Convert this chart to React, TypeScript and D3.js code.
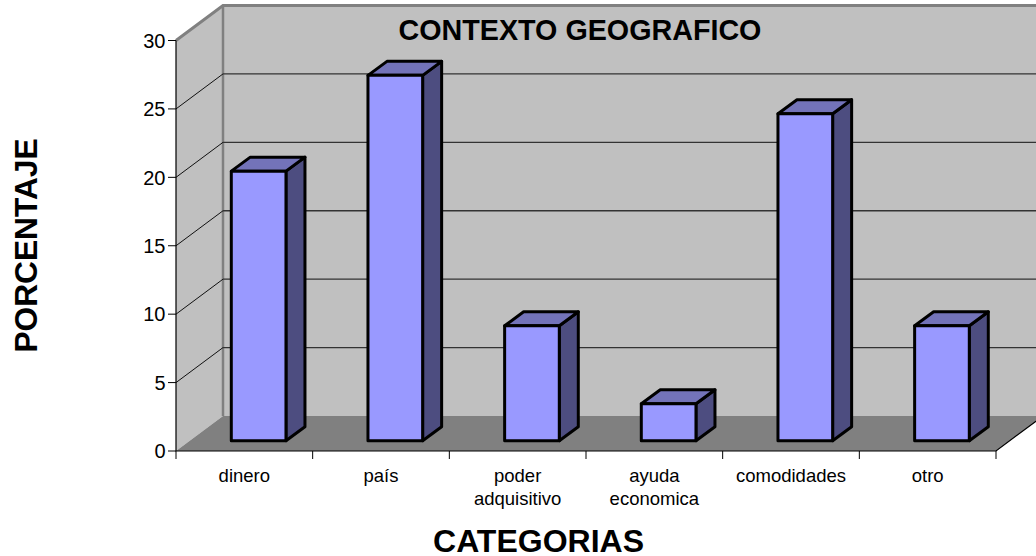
import React from "react";
import * as d3 from "d3";

const categories: string[][] = [["dinero"], ["país"], ["poder", "adquisitivo"], ["ayuda", "economica"], ["comodidades"], ["otro"]];
const values = [19.7, 26.7, 8.4, 2.7, 23.9, 8.4];
const yTicks = [0, 5, 10, 15, 20, 25, 30];

const W = 1036, H = 556;
const FONT = "'Liberation Sans', Arial, sans-serif";
const DX = 47, DY = -35;
const FRONT_DX = 14.3, FRONT_DY = -10.3;
const BAR_DX = 19, BAR_DY = -14;

export default function App() {
  const x = d3.scaleBand<number>().domain(d3.range(categories.length)).range([176, 996]).paddingInner(0).paddingOuter(0);
  const y = d3.scaleLinear().domain([0, 30]).range([451, 40.5]);
  const bw = x.bandwidth() * 0.4;
  const poly = (p: number[][]) => d3.line()(p as [number, number][]) + "Z";
  const y0 = y(0), yT = y(30), xL = x.range()[0], xR = x.range()[1];

  return (
    <svg width={W} height={H} style={{ position: "absolute", left: 0, top: 0, display: "block" }} fontFamily={FONT}>
      <rect width={W} height={H} fill="#fff" />
      {/* back wall */}
      <path d={poly([[xL + DX, yT + DY], [xR + DX, yT + DY], [xR + DX, y0 + DY], [xL + DX, y0 + DY]])} fill="#c0c0c0" />
      {/* side wall */}
      <path d={poly([[xL, yT], [xL + DX, yT + DY], [xL + DX, y0 + DY], [xL, y0]])} fill="#c0c0c0" />
      {/* floor */}
      <path d={poly([[xL, y0], [xL + DX, y0 + DY], [xR + DX, y0 + DY], [xR, y0]])} fill="#808080" />
      {/* wall outlines */}
      <path d={`M${xL},${yT}L${xL + DX},${yT + DY}L${W + 10},${yT + DY}`} fill="none" stroke="#808080" strokeWidth={3} />
      <path d={`M${xL + DX},${yT + DY}V${y0 + DY}`} fill="none" stroke="#808080" strokeWidth={2.5} />
      {/* grid */}
      {yTicks.filter(t => t > 0 && t < 30).map(t => (
        <g key={t} fill="none">
          <path d={`M${xL},${y(t)}L${xL + DX},${y(t) + DY}`} stroke="#111" strokeWidth={1} />
          <path d={`M${xL + DX},${y(t) + DY}H${W + 10}`} stroke="#333" strokeWidth={1.3} />
        </g>
      ))}
      {/* axes */}
      <path d={`M${xL},${yT}V${y0}H${xR}L${xR + DX},${y0 + DY}`} fill="none" stroke="#000" strokeWidth={1.2} />
      {yTicks.map(t => (
        <g key={t}>
          <line x1={xL - 8} x2={xL} y1={y(t)} y2={y(t)} stroke="#000" />
          <text x={xL - 10.5} y={y(t)} dy="0.36em" textAnchor="end" fontSize={20}>{t}</text>
        </g>
      ))}
      {d3.range(categories.length + 1).map(i => {
        const px = xL + i * x.step();
        return <line key={i} x1={px} x2={px} y1={y0} y2={y0 + 8} stroke="#000" />;
      })}
      {categories.map((lines, i) => (
        <text key={i} textAnchor="middle" fontSize={18.5} fill="#000">
          {lines.map((l, j) => (
            <tspan key={j} x={(x(i) as number) + x.bandwidth() / 2} y={481.5 + j * 23.5}>{l}</tspan>
          ))}
        </text>
      ))}
      {/* bars */}
      {values.map((v, i) => {
        const cx = (x(i) as number) + x.bandwidth() / 2 + FRONT_DX;
        const l = cx - bw / 2, r = cx + bw / 2;
        const b = y0 + FRONT_DY, t = y(v) + FRONT_DY;
        return (
          <g key={i} stroke="#000" strokeWidth={3} strokeLinejoin="round">
            <path d={poly([[r, t], [r + BAR_DX, t + BAR_DY], [r + BAR_DX, b + BAR_DY], [r, b]])} fill="#4d4d80" />
            <path d={poly([[l, t], [l + BAR_DX, t + BAR_DY], [r + BAR_DX, t + BAR_DY], [r, t]])} fill="#7373b9" />
            <rect x={l} y={t} width={bw} height={b - t} fill="#9999ff" />
          </g>
        );
      })}
      <text x={580} y={39.5} textAnchor="middle" fontSize={28.7} fontWeight="bold">CONTEXTO GEOGRAFICO</text>
      <text x={538.5} y={552} textAnchor="middle" fontSize={32} fontWeight="bold">CATEGORIAS</text>
      <text transform="translate(37,245.5) rotate(-90)" textAnchor="middle" fontSize={31.7} fontWeight="bold">PORCENTAJE</text>
    </svg>
  );
}
